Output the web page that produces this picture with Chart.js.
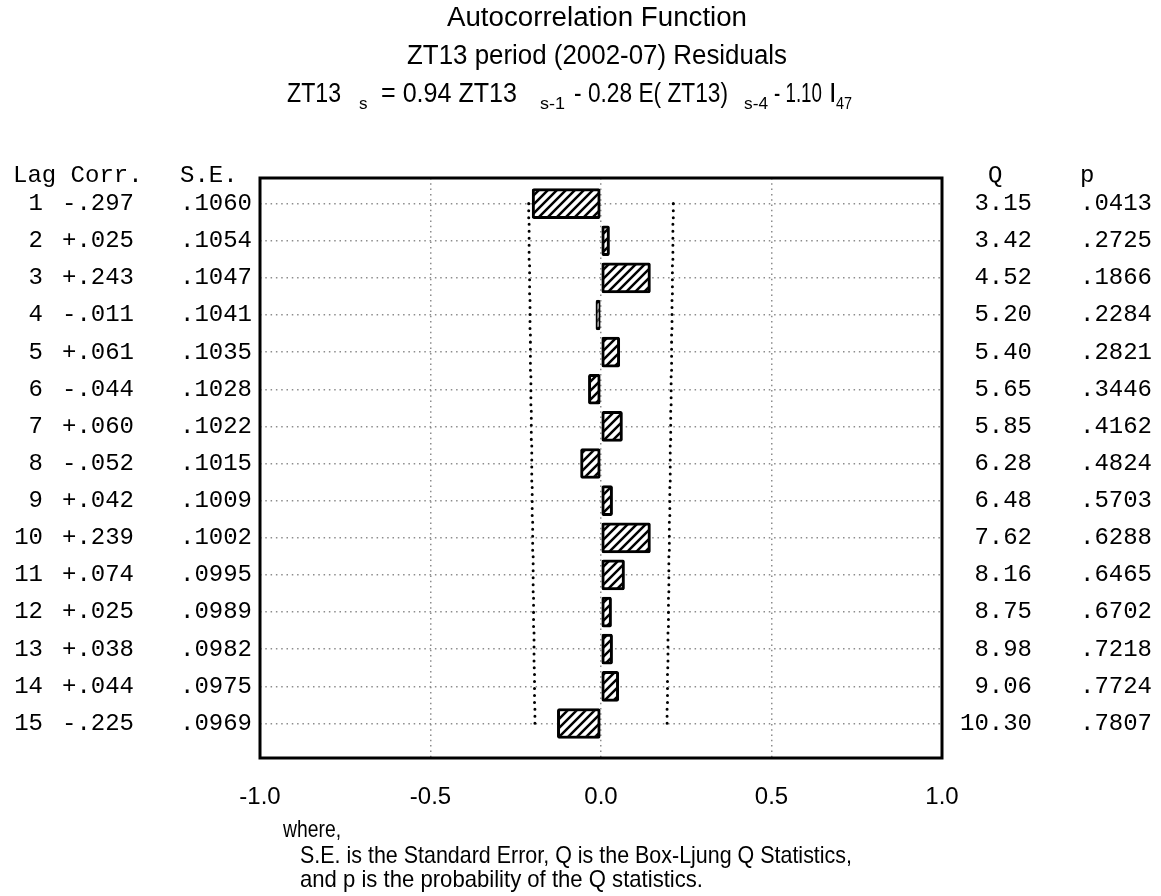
<!DOCTYPE html>
<html><head><meta charset="utf-8">
<script src="https://cdn.jsdelivr.net/npm/chart.js@4.4.1/dist/chart.umd.min.js"></script>
<style>html,body{margin:0;padding:0;background:#fff}</style>
</head><body>
<canvas id="c" width="1161" height="896"></canvas>
<script>
// ---- data ----
const lags = [1,2,3,4,5,6,7,8,9,10,11,12,13,14,15];
const corrText = ['-.297','+.025','+.243','-.011','+.061','-.044','+.060','-.052','+.042','+.239','+.074','+.025','+.038','+.044','-.225'];
const seText = ['.1060','.1054','.1047','.1041','.1035','.1028','.1022','.1015','.1009','.1002','.0995','.0989','.0982','.0975','.0969'];
const seValues = [0.1060,0.1054,0.1047,0.1041,0.1035,0.1028,0.1022,0.1015,0.1009,0.1002,0.0995,0.0989,0.0982,0.0975,0.0969];
const qText = ['3.15','3.42','4.52','5.20','5.40','5.65','5.85','6.28','6.48','7.62','8.16','8.75','8.98','9.06','10.30'];
const pText = ['.0413','.2725','.1866','.2284','.2821','.3446','.4162','.4824','.5703','.6288','.6465','.6702','.7218','.7724','.7807'];
// bar lengths as drawn in the picture
const barValues = [-0.202,0.025,0.145,-0.015,0.055,-0.037,0.063,-0.060,0.034,0.145,0.069,0.031,0.034,0.052,-0.128];
const xTicks = [-1.0,-0.5,0.0,0.5,1.0];
const titleLines = ['Autocorrelation Function','ZT13 period (2002-07) Residuals'];
const noteLines = ['where,','S.E. is the Standard Error, Q is the Box-Ljung Q Statistics,','and p is the probability of the Q statistics.'];

function hatchPattern(){
  const s = 9;
  const c = document.createElement('canvas'); c.width = s; c.height = s;
  const g = c.getContext('2d');
  g.fillStyle = '#fff'; g.fillRect(0,0,s,s);
  g.strokeStyle = '#000'; g.lineWidth = 2.5;
  g.beginPath();
  g.moveTo(-1, s+1); g.lineTo(s+1, -1);
  g.moveTo(-2, 2); g.lineTo(2, -2);
  g.moveTo(s-2, s+2); g.lineTo(s+2, s-2);
  g.stroke();
  return document.createElement('canvas').getContext('2d').createPattern(c,'repeat');
}

function band(sign){
  const pts = [];
  lags.forEach((l,i)=>{
    const v = sign*2*seValues[i];
    pts.push({x:v, y:Math.max(lags[0], l-0.5)});
    pts.push({x:v, y:Math.min(lags[lags.length-1], l+0.5)});
  });
  return pts;
}

// draw text, optionally fitted to a target width (horizontal scaling only)
function drawText(ctx, text, x, y, font, width, align){
  ctx.save();
  ctx.font = font;
  const w = ctx.measureText(text).width;
  const sx = width ? width / w : 1;
  ctx.translate(x, y);
  ctx.scale(sx, 1);
  ctx.textAlign = align || 'left';
  ctx.textBaseline = 'middle';
  ctx.fillStyle = '#000';
  ctx.fillText(text, 0, 0);
  ctx.restore();
}

const SANS = '"Liberation Sans", Arial, sans-serif';
const textPlugin = {
  id: 'texts',
  afterDraw(chart){
    const ctx = chart.ctx;
    const a = chart.chartArea;
    const ys = chart.scales.y;
    // frame
    ctx.save();
    ctx.strokeStyle = '#000'; ctx.lineWidth = 3;
    ctx.strokeRect(a.left, a.top, a.right - a.left, a.bottom - a.top);
    ctx.restore();
    // titles
    const tf = '27px ' + SANS;
    drawText(ctx, titleLines[0], 597, 19, tf, 300, 'center');
    drawText(ctx, titleLines[1], 597, 57, tf, 380, 'center');
    // equation with subscripts
    const sub = '17px ' + SANS;
    const eq = [
      ['ZT13', 287, 95, tf, 54],
      ['s', 359, 104, sub, 0],
      ['= 0.94 ZT13', 381, 95, tf, 136],
      ['s-1', 540, 104, sub, 25],
      ['- 0.28 E( ZT13)', 574, 95, tf, 154],
      ['s-4', 744, 104, sub, 24],
      ['- 1.10', 774, 95, tf, 48],
      ['I', 829, 95, tf, 0],
      ['47', 836, 104, sub, 16]
    ];
    eq.forEach(e=>drawText(ctx, e[0], e[1], e[2], e[3], e[4], 'left'));
    // side tables
    const mono = '24px "Liberation Mono", "DejaVu Sans Mono", monospace';
    ctx.save();
    ctx.font = mono; ctx.fillStyle = '#000'; ctx.textBaseline = 'middle';
    const hy = 176;
    ctx.textAlign = 'left';
    ctx.fillText('Lag Corr.', 13, hy);
    ctx.fillText('S.E.', 180, hy);
    ctx.fillText('Q', 988, hy);
    ctx.fillText('p', 1080, hy);
    lags.forEach((l,i)=>{
      const y = ys.getPixelForValue(l);
      ctx.textAlign = 'right'; ctx.fillText(String(l), 43, y);
      ctx.textAlign = 'left'; ctx.fillText(corrText[i], 62, y);
      ctx.fillText(seText[i], 180, y);
      ctx.textAlign = 'right'; ctx.fillText(qText[i], 1032, y);
      ctx.textAlign = 'left'; ctx.fillText(pText[i], 1080, y);
    });
    ctx.restore();
    // notes
    const nf = '24px ' + SANS;
    drawText(ctx, noteLines[0], 283, 830, nf, 58, 'left');
    drawText(ctx, noteLines[1], 300, 856, nf, 552, 'left');
    drawText(ctx, noteLines[2], 300, 880, nf, 403, 'left');
  }
};

const gridColor = '#8c8c8c';
new Chart(document.getElementById('c'), {
  type: 'bar',
  data: {
    datasets: [
      {
        type: 'bar',
        data: lags.map((l,i)=>({x: barValues[i], y: l})),
        backgroundColor: hatchPattern(),
        borderColor: '#000',
        borderWidth: 3,
        borderSkipped: false,
        borderRadius: 2,
        barThickness: 30,
        order: 0
      },
      {
        type: 'line',
        data: band(1),
        borderColor: '#000', borderWidth: 3,
        borderDash: [0.01, 7], borderCapStyle: 'round',
        pointRadius: 0, fill: false, tension: 0, order: 1
      },
      {
        type: 'line',
        data: band(-1),
        borderColor: '#000', borderWidth: 3,
        borderDash: [0.01, 7], borderCapStyle: 'round',
        pointRadius: 0, fill: false, tension: 0, order: 1
      }
    ]
  },
  options: {
    indexAxis: 'y',
    responsive: false,
    animation: false,
    devicePixelRatio: 1,
    layout: { padding: { left: 260, right: 219, top: 178, bottom: 0 } },
    plugins: { legend: { display: false }, tooltip: { enabled: false } },
    scales: {
      x: {
        type: 'linear', min: -1, max: 1,
        afterBuildTicks: s => { s.ticks = xTicks.map(v=>({value:v})); },
        afterFit: s => { s.height = 138; },
        ticks: {
          padding: 25, color: '#000',
          font: { family: SANS, size: 24 },
          callback: v => Number(v).toFixed(1)
        },
        grid: {
          drawTicks: false, lineWidth: 1.5, offset: false,
          color: c => (c.tick && Math.abs(c.tick.value) === 1) ? 'rgba(0,0,0,0)' : gridColor
        },
        border: { display: false, dash: [1.5, 3.8] }
      },
      y: {
        type: 'linear', reverse: true, min: 0.31, max: 15.93, offset: false,
        afterBuildTicks: s => { s.ticks = lags.map(v=>({value:v})); },
        afterFit: s => { s.width = 0; },
        ticks: { display: false },
        grid: { drawTicks: false, lineWidth: 1.5, color: gridColor, offset: false },
        border: { display: false, dash: [1.5, 3.8] }
      }
    }
  },
  plugins: [textPlugin]
});
</script>
</body></html>
